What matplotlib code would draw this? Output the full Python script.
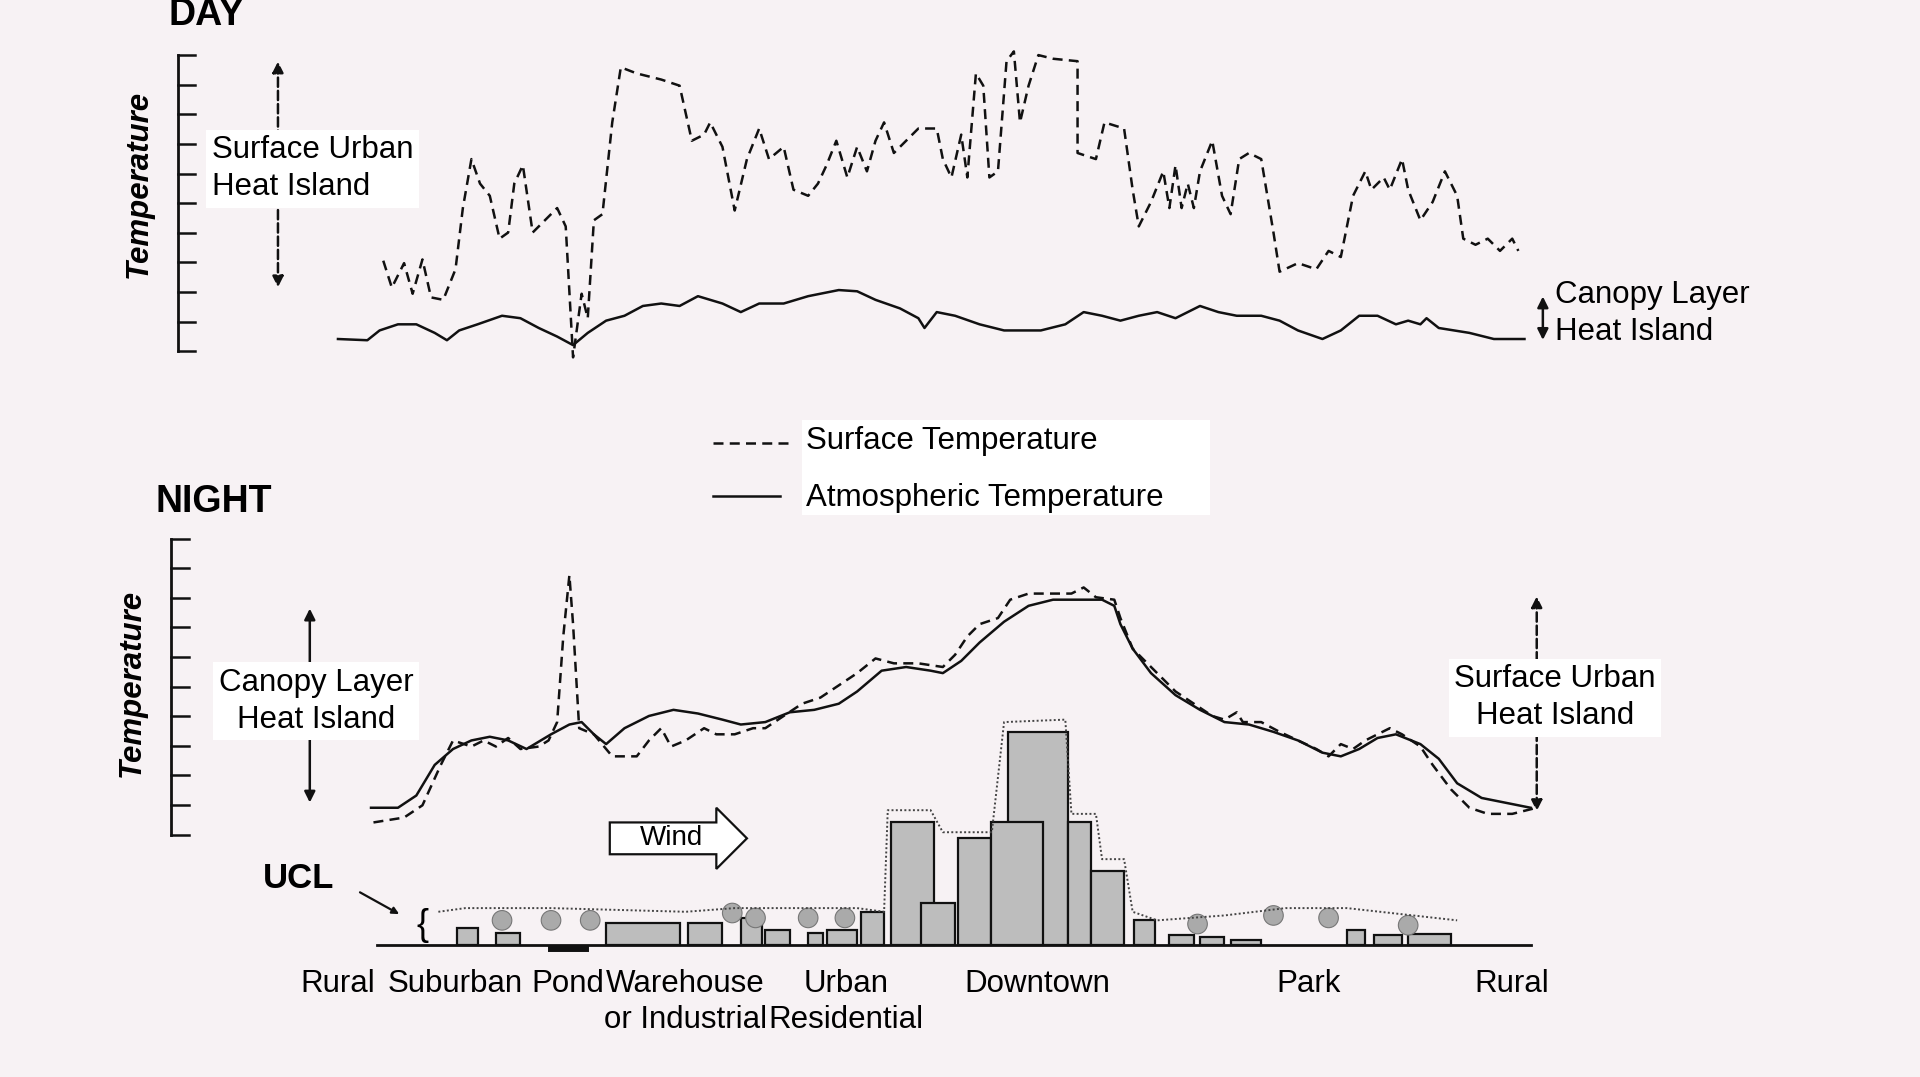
"""Urban heat island profile, day and night, redrawn from the schematic."""

import matplotlib

matplotlib.use("Agg")
import matplotlib.pyplot as plt  # noqa: E402
from matplotlib.patches import Rectangle, Polygon, Circle, FancyArrowPatch  # noqa: E402

plt.rcParams["font.family"] = ["Liberation Sans", "DejaVu Sans"]

BG = "#f7f2f4"

# profile traces, (x, y) in picture units (y grows downward)
day_surface = [
    (313, 213), (320, 235), (330, 215), (337, 240), (345, 212), (352, 243), (362, 245),
    (372, 220), (378, 170), (385, 130), (392, 150), (400, 160), (408, 195), (415, 190),
    (420, 150), (427, 135), (435, 190), (445, 180), (455, 170), (462, 185), (468, 292),
    (475, 240), (480, 260), (485, 180), (492, 175), (500, 100), (507, 55), (520, 60),
    (540, 65), (555, 70), (565, 115), (575, 110), (580, 100), (590, 120), (600, 172),
    (610, 130), (620, 105), (628, 130), (640, 120), (648, 155), (660, 160), (668, 150),
    (675, 135), (683, 115), (692, 145), (700, 120), (708, 140), (715, 115), (722, 100),
    (730, 125), (740, 115), (750, 105), (765, 105), (770, 130), (777, 145), (785, 110),
    (790, 145), (797, 60), (803, 70), (808, 145), (815, 140), (822, 50), (828, 42),
    (833, 100), (840, 70), (848, 45), (860, 48), (880, 50), (880, 125), (895, 130),
    (902, 100), (918, 105), (925, 155), (930, 185), (940, 165), (950, 140), (955, 170),
    (960, 135), (965, 170), (970, 150), (975, 170), (980, 140), (990, 115), (998, 160),
    (1005, 175), (1012, 130), (1020, 125), (1030, 130), (1040, 190), (1045, 222),
    (1060, 215), (1075, 220), (1085, 205), (1095, 210), (1105, 160), (1115, 140),
    (1120, 155), (1130, 145), (1135, 155), (1145, 130), (1150, 155), (1160, 180),
    (1170, 165), (1180, 140), (1190, 160), (1195, 195), (1205, 200), (1215, 195),
    (1225, 205), (1235, 195), (1240, 205),
]
day_air = [
    (276, 277), (300, 278), (310, 270), (325, 265), (340, 265), (355, 272), (365, 278),
    (375, 270), (390, 265), (410, 258), (425, 260), (440, 268), (455, 275), (468, 282),
    (480, 272), (495, 262), (510, 258), (525, 250), (540, 248), (555, 250), (570, 242),
    (590, 248), (605, 255), (620, 248), (640, 248), (660, 242), (685, 237), (700, 238),
    (715, 245), (735, 252), (750, 260), (755, 268), (765, 255), (780, 258), (800, 265),
    (820, 270), (850, 270), (870, 265), (885, 255), (900, 258), (915, 262), (930, 258),
    (945, 255), (960, 260), (980, 250), (995, 255), (1010, 258), (1030, 258), (1045, 262),
    (1060, 270), (1080, 277), (1095, 270), (1110, 258), (1125, 258), (1140, 265),
    (1150, 262), (1160, 265), (1165, 260), (1175, 268), (1200, 272), (1220, 277),
    (1245, 277),
]
night_air = [
    (303, 660), (325, 660), (340, 650), (355, 625), (370, 612), (385, 605), (400, 602),
    (415, 605), (430, 612), (450, 600), (465, 592), (475, 590), (485, 600), (495, 608),
    (510, 595), (530, 585), (550, 580), (570, 583), (590, 588), (605, 592), (625, 590),
    (645, 582), (665, 580), (685, 575), (700, 565), (720, 548), (740, 545), (760, 548),
    (770, 550), (785, 540), (800, 525), (820, 508), (840, 495), (860, 490), (880, 490),
    (900, 490), (910, 495), (915, 510), (925, 530), (940, 550), (960, 568), (980, 580),
    (1000, 590), (1020, 592), (1040, 598), (1060, 605), (1080, 615), (1095, 618),
    (1110, 612), (1125, 603), (1140, 600), (1160, 608), (1175, 620), (1190, 640),
    (1210, 652), (1230, 656), (1250, 660),
]
night_surface = [
    (305, 672), (330, 668), (345, 658), (360, 625), (370, 605), (385, 610), (395, 605),
    (405, 610), (415, 603), (425, 612), (440, 610), (448, 605), (455, 590), (460, 520),
    (465, 470), (468, 510), (473, 595), (485, 600), (495, 612), (500, 618), (520, 618),
    (530, 605), (540, 595), (548, 610), (560, 605), (575, 595), (585, 600), (600, 600),
    (615, 595), (625, 595), (640, 585), (655, 575), (670, 570), (685, 560), (700, 550),
    (715, 538), (730, 542), (750, 542), (770, 545), (780, 535), (790, 520), (800, 510),
    (815, 505), (825, 490), (840, 485), (860, 485), (875, 485), (885, 480), (895, 488),
    (910, 490), (915, 505), (925, 530), (940, 545), (960, 565), (975, 575), (990, 585),
    (1000, 588), (1010, 582), (1015, 590), (1030, 590), (1045, 598), (1060, 605),
    (1075, 612), (1085, 618), (1095, 608), (1105, 612), (1115, 605), (1125, 600),
    (1135, 595), (1145, 600), (1160, 610), (1170, 625), (1185, 645), (1200, 660),
    (1215, 665), (1235, 665), (1255, 660),
]
ucl_envelope = [
    (358, 745), (380, 742), (450, 742), (560, 745), (600, 742), (700, 742), (722, 745),
    (725, 662), (760, 662), (770, 680), (810, 680), (820, 590), (870, 588), (875, 665),
    (895, 665), (900, 702), (918, 702), (925, 745), (945, 752), (1000, 748), (1050, 742),
    (1100, 742), (1190, 752),
]
# buildings: left, right, roof
buildings = [
    (495, 555, 754), (562, 590, 754), (605, 622, 750), (625, 645, 760), (703, 722, 745),
    (728, 763, 672), (752, 780, 738), (782, 809, 685), (823, 872, 598), (809, 852, 672),
    (872, 891, 672), (891, 918, 712), (926, 943, 752),
    (373, 390, 758), (405, 425, 762), (660, 672, 762), (675, 700, 760),
    (955, 975, 764), (980, 1000, 766), (1005, 1030, 768), (1100, 1115, 760),
    (1122, 1145, 764), (1150, 1185, 763),
]
trees = [(410, 752), (450, 752), (482, 752), (598, 746), (617, 750), (660, 750),
         (690, 750), (978, 755), (1040, 748), (1085, 750), (1150, 756)]
zones = [(276, "Rural"), (372, "Suburban"), (464, "Pond"), (560, "Warehouse\nor Industrial"),
         (691, "Urban\nResidential"), (847, "Downtown"), (1069, "Park"), (1235, "Rural")]

fig = plt.figure(figsize=(19.2, 10.77), dpi=100, facecolor=BG)
ax = fig.add_axes([0, 0, 1, 1])
ax.set_xlim(0, 1568)
ax.set_ylim(880, 0)
ax.axis("off")

FS = 22.5
K = "#111111"


def trace(pts, **kw):
    ax.plot([p[0] for p in pts], [p[1] for p in pts], color=K, lw=1.8, **kw)


def yaxis(x, top, bottom, ymid):
    ax.plot([x, x], [top, bottom], color=K, lw=2)
    for i in range(11):
        y = top + i * (bottom - top) / 10
        ax.plot([x, x + 14], [y, y], color=K, lw=1.8)
    ax.text(x - 32, ymid, "Temperature", rotation=90, ha="center", va="center",
            fontsize=FS, fontweight="bold", fontstyle="italic")


def arrow(x, y0, y1, ls="-"):
    ax.add_patch(FancyArrowPatch((x, y0), (x, y1), arrowstyle="<|-|>", mutation_scale=16,
                                 color=K, lw=1.8, linestyle=ls))


def label(x, y, s, box=True, ha="center"):
    ax.text(x, y, s, ha=ha, va="center", fontsize=FS, linespacing=1.3,
            bbox=dict(fc="white", ec="none", pad=4) if box else None)


# DAY
ax.text(138, 12, "DAY", fontsize=27, fontweight="bold", va="center")
yaxis(145, 45, 287, 150)
trace(day_surface, ls=(0, (4, 2.5)))
trace(day_air)
arrow(227, 48, 237, ls="--")
label(173, 138, "Surface Urban\nHeat Island", ha="left")
arrow(1260, 240, 280)
label(1270, 256, "Canopy Layer\nHeat Island", box=False, ha="left")

# legend
ax.add_patch(Rectangle((655, 343), 333, 78, fc="white", ec="none"))
ax.plot([582, 645], [362, 362], color=K, lw=1.8, ls=(0, (4, 2.5)))
ax.plot([582, 637], [405, 405], color=K, lw=1.8)
ax.text(658, 360, "Surface Temperature", fontsize=FS, va="center")
ax.text(658, 407, "Atmospheric Temperature", fontsize=FS, va="center")

# NIGHT
ax.text(127, 410, "NIGHT", fontsize=27, fontweight="bold", va="center")
yaxis(140, 440, 682, 558)
trace(night_surface, ls=(0, (4, 2.5)))
trace(night_air)
arrow(253, 495, 658)
label(258, 573, "Canopy Layer\nHeat Island")
arrow(1255, 485, 665, ls="--")
label(1270, 570, "Surface Urban\nHeat Island")

# urban canopy layer
ax.plot([p[0] for p in ucl_envelope], [p[1] for p in ucl_envelope], color="#444444",
        lw=1.4, ls=(0, (1, 1.2)))
for x0, x1, top in buildings:
    ax.add_patch(Rectangle((x0, top), x1 - x0, 772 - top, fc="#bdbdbd", ec=K, lw=1.6))
for tx, ty in trees:
    ax.add_patch(Circle((tx, ty), 8, fc="#aaaaaa", ec="#777777", lw=0.8))
ax.plot([308, 1250], [772, 772], color=K, lw=2)
ax.plot([450, 478], [775, 775], color=K, lw=5)
ax.text(345, 756, "{", fontsize=26, ha="center", va="center")
ax.text(215, 718, "UCL", fontsize=25, fontweight="bold", va="center")
ax.annotate("", xy=(328, 748), xytext=(292, 728),
            arrowprops=dict(arrowstyle="-|>", color=K, lw=1.6))
ax.add_patch(Polygon([(498, 672), (585, 672), (585, 660), (610, 685), (585, 710),
                      (585, 698), (498, 698)], fc="white", ec=K, lw=1.6))
ax.text(548, 685, "Wind", fontsize=20, ha="center", va="center")

for zx, name in zones:
    ax.text(zx, 792, name, fontsize=FS, ha="center", va="top", linespacing=1.25)

fig.savefig("out.png", dpi=100, facecolor=BG)
